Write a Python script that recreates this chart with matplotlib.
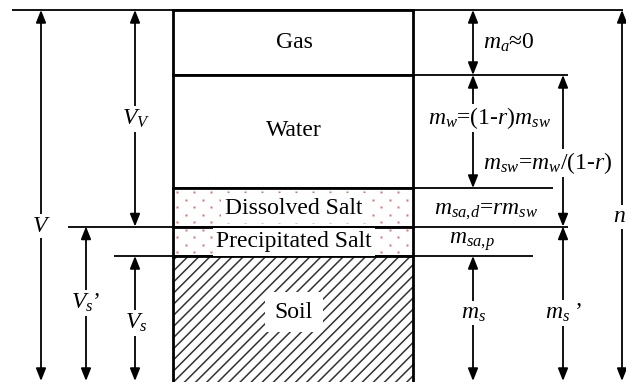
import matplotlib

matplotlib.use("Agg")
import matplotlib.pyplot as plt
import numpy as np
from matplotlib.patches import Rectangle

plt.rcParams["font.family"] = ["Liberation Serif", "DejaVu Serif"]
plt.rcParams["mathtext.fontset"] = "custom"
plt.rcParams["mathtext.rm"] = "Liberation Serif"
plt.rcParams["mathtext.it"] = "Liberation Serif:italic"
plt.rcParams["hatch.linewidth"] = 1.1

# phase layers of the soil column (top -> bottom), in pixel units
LAYER_NAMES = ["Gas", "Water", "Dissolved Salt", "Precipitated Salt", "Soil"]
LAYER_TOPS = [10, 75, 188, 226.5, 256]
NAME_Y = [43, 131, 208, 242, 312]
NAME_PAD = [0, 0, 3, 2.5, 7]
COLUMN_BOTTOM = 384
BOX_LEFT, BOX_RIGHT = 173, 413

# dimension arrows: (x, y_from, y_to, label, label_x, label_y)
LEFT_ARROWS = [
    (41, 10, 381, r"$V$", 41, 226),
    (135, 10, 226.5, r"$V_V$", 136, 119),
    (86, 226.5, 381, r"$V_s$’", 86, 303),
    (135, 256, 381, r"$V_s$", 136, 323),
]
RIGHT_ARROWS = [
    (473, 10, 75, None, 0, 0),
    (473, 75, 188, None, 0, 0),
    (563, 75, 226.5, None, 0, 0),
    (473, 256, 381, r"$m_s$", 473, 313),
    (563, 226.5, 381, r"$m_s$ ’", 564, 313),
    (622, 10, 381, r"$n$", 619, 217),
]
# free labels: (text, x, y, white background)
RIGHT_LABELS = [
    (r"$m_a$≈0", 509, 43, True),
    (r"$m_w$=(1-$r$)$m_{sw}$", 489, 118, True),
    (r"$m_{sw}$=$m_w$/(1-$r$)", 548, 163, True),
    (r"$m_{sa,\!d}$=$r$$m_{sw}$", 486, 211, True),
    (r"$m_{sa,\!p}$", 472, 242, False),
]
# horizontal guide lines: (y, x_start, x_end)
GUIDES = [
    (10, 12, 623),
    (75, BOX_LEFT, 568),
    (188, BOX_LEFT, 553),
    (226.5, 68, 568),
    (256, 114, 533),
]

FS = 17
fig = plt.figure(figsize=(6.26, 3.82), dpi=100)
ax = fig.add_axes([0, 0, 1, 1])
ax.set_xlim(0, 626)
ax.set_ylim(382, 0)
ax.axis("off")

# salt layers: red dot pattern
dot_y = np.arange(LAYER_TOPS[2] + 4, LAYER_TOPS[4] - 1, 7.5)
for i, yy in enumerate(dot_y):
    xs = np.arange(BOX_LEFT + 4 + (i % 2) * 8.5, BOX_RIGHT - 2, 17)
    ax.plot(xs, np.full_like(xs, yy), ls="none", marker="s", ms=1.8,
            color="#e07070", mec="none")

# soil layer: hatch
ax.add_patch(Rectangle((BOX_LEFT, LAYER_TOPS[4]), BOX_RIGHT - BOX_LEFT,
                       COLUMN_BOTTOM - LAYER_TOPS[4], facecolor="white",
                       edgecolor="#333333", hatch="///", lw=0))

# guide lines
for y, x0, x1 in GUIDES:
    ax.plot([x0, x1], [y, y], color="black", lw=1.3, solid_capstyle="butt")

# layer names
for name, yy, pad in zip(LAYER_NAMES, NAME_Y, NAME_PAD):
    box = dict(facecolor="white", edgecolor="none", pad=pad) if pad else None
    ax.text(294, yy, name, ha="center", va="center", fontsize=FS, bbox=box)

# column outline on top
for y in LAYER_TOPS:
    ax.plot([BOX_LEFT, BOX_RIGHT], [y, y], color="black", lw=2)
for x in (BOX_LEFT, BOX_RIGHT):
    ax.plot([x, x], [LAYER_TOPS[0], COLUMN_BOTTOM], color="black", lw=2)

arrow_style = "<|-|>,head_length=0.75,head_width=0.3"


def draw_arrow(x, y0, y1):
    ax.annotate("", xy=(x, y1), xytext=(x, y0),
                arrowprops=dict(arrowstyle=arrow_style, color="black", lw=1.3,
                                shrinkA=0, shrinkB=0, mutation_scale=10))


for x, y0, y1, label, lx, ly in LEFT_ARROWS + RIGHT_ARROWS:
    draw_arrow(x, y0, y1)
    if label:
        ax.text(lx, ly, label, ha="center", va="center", fontsize=FS,
                bbox=dict(facecolor="white", edgecolor="none", pad=1))

for label, lx, ly, white in RIGHT_LABELS:
    box = dict(facecolor="white", edgecolor="none", pad=1) if white else None
    ax.text(lx, ly, label, ha="center", va="center", fontsize=FS, bbox=box)

fig.savefig("out.png", dpi=100)
